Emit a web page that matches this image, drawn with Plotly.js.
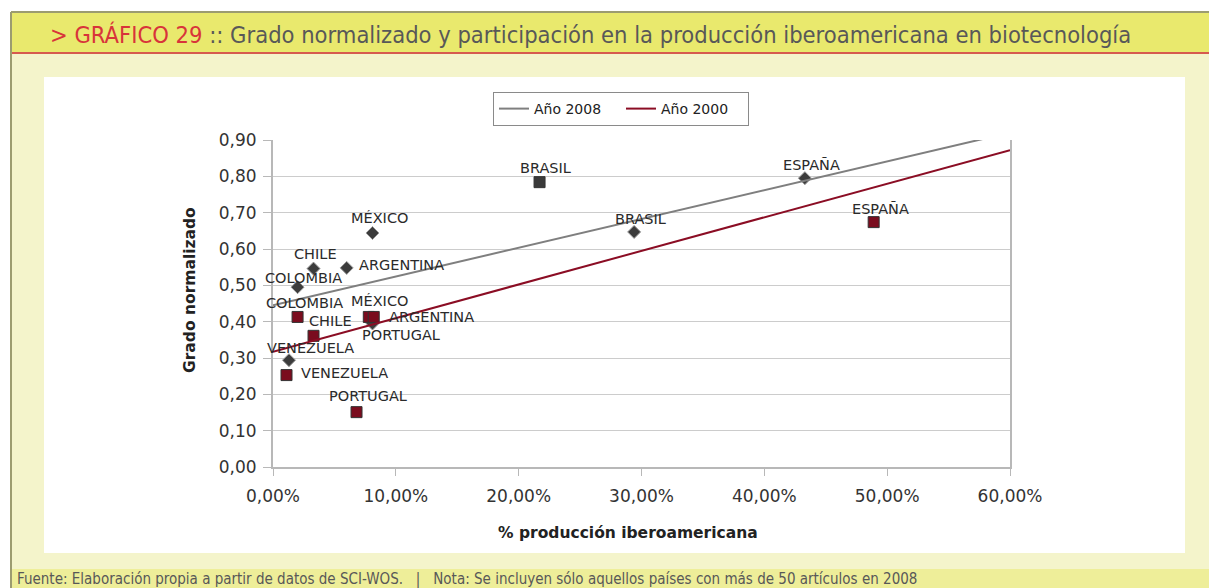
<!DOCTYPE html>
<html>
<head>
<meta charset="utf-8">
<script src="https://cdn.plot.ly/plotly-3.0.1.min.js"></script>
<style>
html,body{margin:0;padding:0;background:#ffffff;}
#chart{width:1209px;height:588px;}
</style>
</head>
<body>
<div id="chart"></div>
<script>
// ---- DATA ----
var countries = ['ESPAÑA','BRASIL','MÉXICO','CHILE','ARGENTINA','COLOMBIA','PORTUGAL','VENEZUELA'];
var share2008 = [43.3, 29.4, 8.1, 3.3, 6.0, 2.0, 8.1, 1.3];      // % producción iberoamericana
var degree2008 = [0.795, 0.647, 0.644, 0.546, 0.548, 0.495, 0.395, 0.294];
var share2000 = [48.9, 21.7, 7.8, 3.3, 8.2, 2.0, 6.8, 1.1];
var degree2000 = [0.674, 0.784, 0.413, 0.361, 0.413, 0.413, 0.151, 0.253];
var seriesNames = ['Año 2008', 'Año 2000'];
var yTicks = [0, 0.1, 0.2, 0.3, 0.4, 0.5, 0.6, 0.7, 0.8, 0.9];
var yTickLabels = ['0,00','0,10','0,20','0,30','0,40','0,50','0,60','0,70','0,80','0,90'];
var xTicks = [0, 10, 20, 30, 40, 50, 60];
var xTickLabels = ['0,00%','10,00%','20,00%','30,00%','40,00%','50,00%','60,00%'];

// ---- STYLE (label offsets in px, colours) ----
var off2008 = [[7,-13,'center'],[6,-13,'center'],[7,-15,'center'],[2,-15,'center'],[10,-3,'left'],[6,-9,'center'],[29,12,'center'],[22,-12,'center']];
var off2000 = [[7,-13,'center'],[6,-14,'center'],[11,-16,'center'],[17,-15,'center'],[13,0,'left'],[7,-14,'center'],[11,-16,'center'],[12,-2,'left']];
var sqColors = ['#7a0c1e','#3a3a3a','#7a0c1e','#7a0c1e','#7a0c1e','#7a0c1e','#7a0c1e','#7a0c1e'];

// linear regression (Excel-style trendline)
function fit(x, y) {
  var n = x.length, mx = 0, my = 0;
  for (var i = 0; i < n; i++) { mx += x[i]; my += y[i]; }
  mx /= n; my /= n;
  var sxy = 0, sxx = 0;
  for (var j = 0; j < n; j++) { sxy += (x[j]-mx)*(y[j]-my); sxx += (x[j]-mx)*(x[j]-mx); }
  var b = sxy/sxx; return {a: my - b*mx, b: b};
}
var f08 = fit(share2008, degree2008), f00 = fit(share2000, degree2000);
var xr = [xTicks[0], xTicks[xTicks.length-1]];

// pixel -> paper helpers (plot area: 273..1010 x 140..467)
var L = 273, R = 1010, T = 140, B = 467;
function px(X){ return (X - L)/(R - L); }
function py(Y){ return (B - Y)/(B - T); }

var FONT = 'DejaVu Sans, Liberation Sans, Arial, sans-serif';
var NARROW = 'DejaVu Sans Condensed, Liberation Sans Narrow, sans-serif';

var traces = [
  { x: share2008, y: degree2008, mode: 'markers', type: 'scatter', showlegend: false, hoverinfo: 'skip',
    marker: {symbol: 'diamond', size: 10, color: '#3c3c3c', line: {color: '#9a9a9a', width: 1}} },
  { x: share2000, y: degree2000, mode: 'markers', type: 'scatter', showlegend: false, hoverinfo: 'skip',
    marker: {symbol: 'square', size: 11, color: sqColors, line: {color: '#333333', width: 1}} },
  { x: xr, y: xr.map(function(v){ return f08.a + f08.b*v; }), mode: 'lines', type: 'scatter', name: seriesNames[0],
    line: {color: '#7f7f7f', width: 2} },
  { x: xr, y: xr.map(function(v){ return f00.a + f00.b*v; }), mode: 'lines', type: 'scatter', name: seriesNames[1],
    line: {color: '#8b0d24', width: 2} }
];

var annotations = [];
function addLabels(xs, ys, offs) {
  for (var i = 0; i < countries.length; i++) {
    annotations.push({x: xs[i], y: ys[i], xref: 'x', yref: 'y', text: countries[i], showarrow: false,
      xanchor: offs[i][2], yanchor: 'middle', xshift: offs[i][0], yshift: -offs[i][1],
      font: {family: FONT, size: 14.5, color: '#2a2a2a'}});
  }
}
addLabels(share2008, degree2008, off2008);
addLabels(share2000, degree2000, off2000);

annotations.push({xref:'paper', yref:'paper', x: px(48), y: py(35), xanchor:'left', yanchor:'middle', showarrow:false,
  text: '<span style="color:#d8343a">&gt; GRÁFICO 29</span> :: Grado normalizado y participación en la producción iberoamericana en biotecnología',
  font: {family: NARROW, size: 23.5, color: '#585858'}});
annotations.push({xref:'paper', yref:'paper', x: px(15), y: py(579), xanchor:'left', yanchor:'middle', showarrow:false,
  text: 'Fuente: Elaboración propia a partir de datos de SCI-WOS.\u00a0\u00a0\u00a0|\u00a0\u00a0\u00a0Nota: Se incluyen sólo aquellos países con más de 50 artículos en 2008',
  font: {family: NARROW, size: 15, color: '#585858'}});
annotations.push({xref:'paper', yref:'paper', x: px(628), y: py(533), xanchor:'center', yanchor:'middle', showarrow:false,
  text: '<b>% producción iberoamericana</b>', font: {family: FONT, size: 15.5, color: '#222222'}});
annotations.push({xref:'paper', yref:'paper', x: px(190), y: py(290), xanchor:'center', yanchor:'middle', showarrow:false, textangle: -90,
  text: '<b>Grado normalizado</b>', font: {family: FONT, size: 15.5, color: '#222222'}});

function rect(x0,y0,x1,y1,fill){ return {type:'rect', xref:'paper', yref:'paper', layer:'below', x0:px(x0), x1:px(x1), y0:py(y0), y1:py(y1), fillcolor:fill, line:{width:0}}; }
function line(x0,y0,x1,y1,col,w){ return {type:'line', xref:'paper', yref:'paper', layer:'below', x0:px(x0), x1:px(x1), y0:py(y0), y1:py(y1), line:{color:col, width:w}}; }
var shapes = [
  rect(11, 12, 1209, 588, '#f4f4cb'),
  rect(11, 12, 1209, 53, '#e9e96d'),
  rect(11, 569, 1209, 588, '#eeee99'),
  line(11, 53, 1209, 53, '#d65a4e', 2),
  line(11, 12, 1209, 12, '#9c9c70', 2),
  line(11, 12, 11, 588, '#9c9c70', 2),
  rect(44, 77, 1185, 553, '#ffffff')
];

var layout = {
  width: 1209, height: 588,
  margin: {l: L, r: 1209 - R, t: T, b: 588 - B, pad: 0},
  paper_bgcolor: '#ffffff', plot_bgcolor: '#ffffff',
  font: {family: FONT, color: '#333333'},
  xaxis: {range: xr, tickmode: 'array', tickvals: xTicks, ticktext: xTickLabels, showgrid: false, zeroline: false,
    showline: true, linecolor: '#b8b8b8', linewidth: 2, ticks: 'outside', ticklen: 7, tickcolor: '#b8b8b8', tickwidth: 1,
    ticklabelstandoff: 6, tickfont: {family: FONT, size: 17, color: '#333333'}, fixedrange: true},
  yaxis: {range: [yTicks[0], yTicks[yTicks.length-1]], tickmode: 'array', tickvals: yTicks, ticktext: yTickLabels,
    showgrid: true, gridcolor: '#cccccc', gridwidth: 1,
    zeroline: false, showline: true, mirror: true, linecolor: '#b8b8b8', linewidth: 2, ticks: 'outside', ticklen: 8, tickcolor: '#b8b8b8',
    ticklabelstandoff: 3, tickfont: {family: FONT, size: 17, color: '#333333'}, fixedrange: true},
  showlegend: true,
  legend: {orientation: 'h', x: px(621), xanchor: 'center', y: py(92), yanchor: 'top', bgcolor: '#ffffff',
    bordercolor: '#8a8a8a', borderwidth: 1, entrywidth: 82, font: {family: FONT, size: 14, color: '#222222'}},
  shapes: shapes,
  annotations: annotations
};

Plotly.newPlot('chart', traces, layout, {displayModeBar: false, staticPlot: true});
</script>
</body>
</html>
